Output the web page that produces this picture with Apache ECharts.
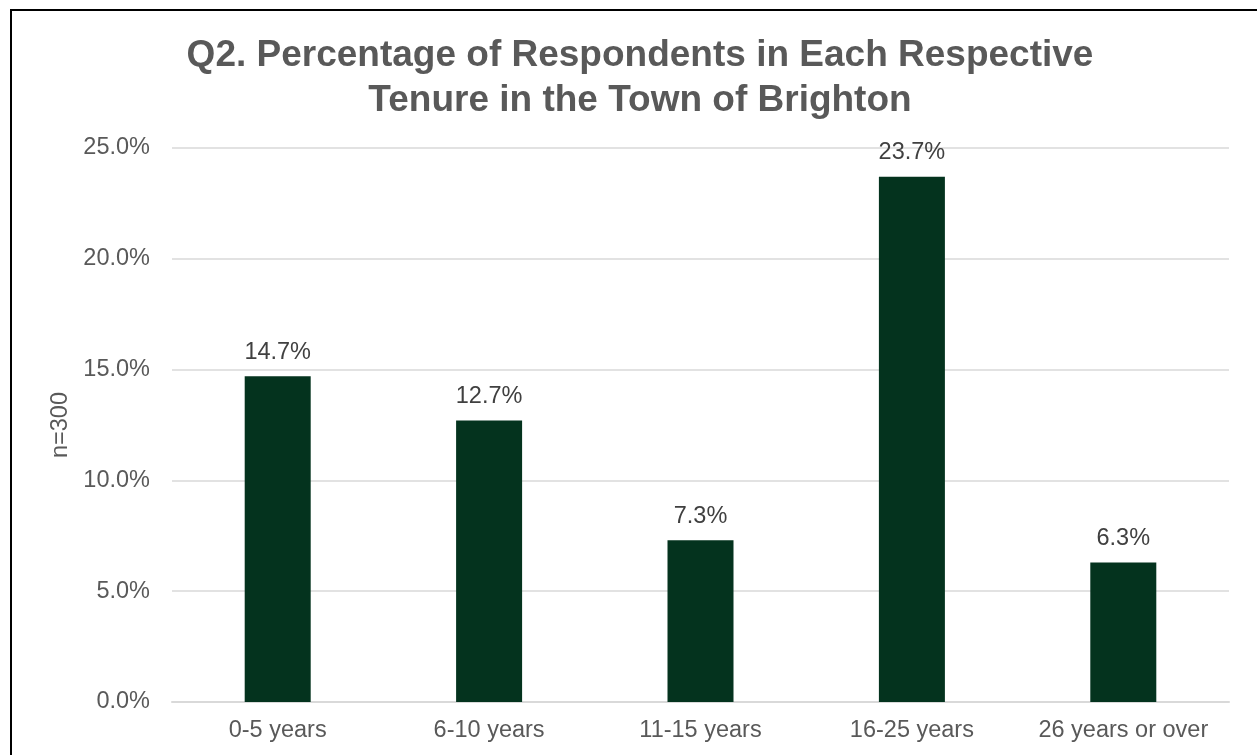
<!DOCTYPE html>
<html><head><meta charset="utf-8">
<script src="https://cdn.jsdelivr.net/npm/echarts@6/dist/echarts.min.js"></script>
<style>
html,body{margin:0;padding:0;background:#fff;overflow:hidden;}
#frame{position:absolute;left:10px;top:9px;width:1400px;height:900px;border-left:2px solid #000;border-top:2px solid #000;}
#c{position:absolute;left:0;top:0;width:1257px;height:755px;}
</style></head>
<body>
<div id="frame"></div>
<div id="c"></div>
<script>
const categories = ["0-5 years","6-10 years","11-15 years","16-25 years","26 years or over"];
const values = [14.7, 12.7, 7.3, 23.7, 6.3];
const titleLines = ["Q2. Percentage of Respondents in Each Respective","Tenure in the Town of Brighton"];
const yAxisName = "n=300";

const FONT = 'Liberation Sans, Arial';
const chart = echarts.init(document.getElementById('c'), null, {renderer:'canvas'});
chart.setOption({
  backgroundColor: 'transparent',
  animation: false,
  title: {
    text: titleLines.join('\n'),
    left: 635, top: 28, textAlign: 'center',
    textStyle: {fontFamily:FONT, fontWeight:'bold', fontSize:37, color:'#595959', lineHeight:45}
  },
  grid: {left:172, right:28, top:148, bottom:53, containLabel:false},
  xAxis: {
    type:'category', data: categories,
    axisLine:{show:true, lineStyle:{color:'#d9d9d9', width:2}},
    axisTick:{show:false},
    axisLabel:{interval:0, hideOverlap:false, fontFamily:FONT, fontSize:23.5, color:'#595959', margin:17}
  },
  yAxis: {
    type:'value', min:0, max:25, interval:5,
    name: yAxisName, nameLocation:'middle', nameGap:98, nameRotate:90,
    nameTextStyle:{fontFamily:FONT, fontSize:23.5, color:'#595959'},
    axisLine:{show:false}, axisTick:{show:false},
    splitLine:{lineStyle:{color:'#d9d9d9', width:1.5}},
    axisLabel:{fontFamily:FONT, fontSize:23.5, color:'#595959', margin:22,
      formatter: v => v.toFixed(1) + '%'}
  },
  series: [{
    type:'bar', data: values, barWidth: 66,
    itemStyle:{color:'#04331e'},
    label:{show:true, position:'top', distance:12, fontFamily:FONT, fontSize:23.5, color:'#404040',
      formatter: p => p.value.toFixed(1) + '%'}
  }]
});
</script>
</body></html>
